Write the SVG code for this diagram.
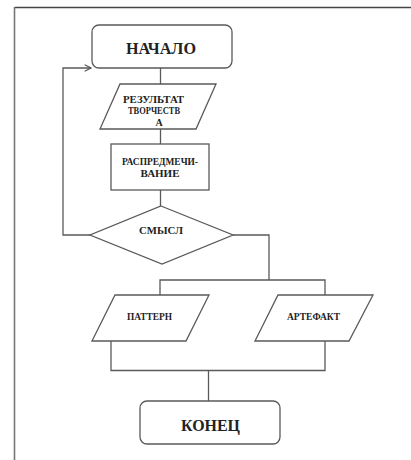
<svg xmlns="http://www.w3.org/2000/svg" width="411" height="460" viewBox="0 0 411 460">
<defs>
<marker id="open" viewBox="0 0 10 10" refX="9" refY="5" markerWidth="8" markerHeight="8" markerUnits="userSpaceOnUse" orient="auto">
<path d="M1,1 L9,5 L1,9" fill="none" stroke="#555" stroke-width="1.4"/>
</marker>
<style>
.s{fill:#fff;stroke:#5a5a5a;stroke-width:1.3}
.c{fill:none;stroke:#5a5a5a;stroke-width:1.3}
text{font-family:'Liberation Serif','Times New Roman',serif;font-weight:bold;fill:#222;text-anchor:middle}
.big{font-size:16px}
.sm{font-size:10px}
</style>
</defs>
<rect x="0" y="0" width="411" height="460" fill="#fff"/>
<g id="frame">
<line x1="14.5" y1="7.5" x2="411" y2="7.5" stroke="#444" stroke-width="1.6"/>
<line x1="14.5" y1="7" x2="14.5" y2="460" stroke="#777" stroke-width="1.6"/>
</g>
<g id="connectors">
<line class="c" x1="160.5" y1="68" x2="160.5" y2="84"/>
<line class="c" x1="160.5" y1="129" x2="160.5" y2="144"/>
<line class="c" x1="160.5" y1="190" x2="160.5" y2="206"/>
<polyline class="c" points="90,235 63,235 63,68 91,68" marker-end="url(#open)"/>
<polyline class="c" points="233,235 269,235 269,280"/>
<polyline class="c" points="160,295 160,280 325,280 325,295"/>
<polyline class="c" points="111,341 111,370.5 325,370.5 325,341"/>
<line class="c" x1="208.5" y1="370.5" x2="208.5" y2="401"/>
</g>
<g id="start">
<rect class="s" x="92" y="25" width="140" height="43" rx="7"/>
<text class="big" x="161" y="53.5" textLength="70" lengthAdjust="spacingAndGlyphs">НАЧАЛО</text>
</g>
<g id="result">
<polygon class="s" points="120,84 216,84 196,129 100,129"/>
<text class="sm" x="153.5" y="102.5" textLength="61" lengthAdjust="spacingAndGlyphs">РЕЗУЛЬТАТ</text>
<text class="sm" x="154" y="114" textLength="52" lengthAdjust="spacingAndGlyphs">ТВОРЧЕСТВ</text>
<text class="sm" x="159" y="125.5">А</text>
</g>
<g id="raspred">
<rect class="s" x="111" y="144" width="98" height="46"/>
<text class="sm" x="160" y="164.5" textLength="76" lengthAdjust="spacingAndGlyphs">РАСПРЕДМЕЧИ-</text>
<text class="sm" x="160" y="177" textLength="39" lengthAdjust="spacingAndGlyphs">ВАНИЕ</text>
</g>
<g id="smysl">
<polygon class="s" points="161,206 233,235 162,264 90,235"/>
<text style="font-size:11px" x="161" y="234" textLength="44" lengthAdjust="spacingAndGlyphs">СМЫСЛ</text>
</g>
<g id="pattern">
<polygon class="s" points="115,295 209,295 186,341 92,341"/>
<text class="sm" x="149.5" y="319.5" textLength="45" lengthAdjust="spacingAndGlyphs">ПАТТЕРН</text>
</g>
<g id="artefact">
<polygon class="s" points="278,295 373,295 349,341 255,341"/>
<text class="sm" x="313.5" y="319.5" textLength="53" lengthAdjust="spacingAndGlyphs">АРТЕФАКТ</text>
</g>
<g id="end">
<rect class="s" x="140" y="401" width="140" height="43" rx="7"/>
<text class="big" x="210.5" y="430.5" textLength="59" lengthAdjust="spacingAndGlyphs">КОНЕЦ</text>
</g>
</svg>
